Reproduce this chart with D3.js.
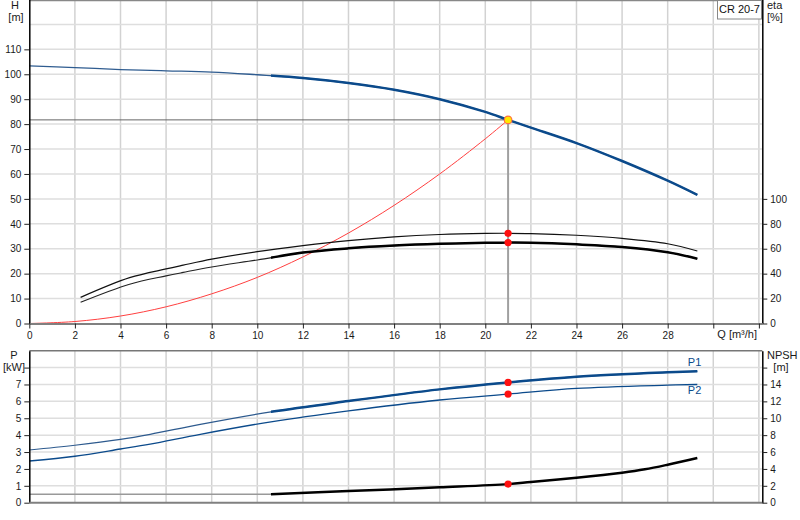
<!DOCTYPE html>
<html>
<head>
<meta charset="utf-8">
<script src="https://cdn.jsdelivr.net/npm/d3@7"></script>
<style>
  body { margin: 0; background: #fff; }
  svg { display: block; font-family: "Liberation Sans", Arial, sans-serif; font-size: 10px; }
  .tick text { fill: #1a1a1a; font-size: 10px; }
</style>
</head>
<body>
<div id="chart"></div>
<script>
// pump curve CR 20-7
var pumpName = 'CR 20-7';

// Q/H curve
var qH = [0, 2, 4, 6, 8, 10, 12, 14, 16, 18, 20, 21, 22, 24, 26, 28, 29.3];
var hVals = [103.4, 102.7, 101.9, 101.4, 100.9, 99.8, 98.5, 96.5, 93.8, 90.0, 84.9, 81.7, 78.6, 72.4, 65.2, 57.3, 51.6];

// efficiency curves
var qEta = [2.25, 4.4, 6, 6.75, 8, 10, 12, 14, 16, 18, 20, 21, 22, 24, 26, 28, 29.3];
var etaPump = [21.0, 36.8, 43.8, 46.8, 51.6, 57.7, 62.5, 66.5, 69.5, 71.4, 72.3, 72.4, 72.2, 70.8, 68.3, 64.0, 58.2];
var etaTotal = [17.0, 31.5, 38.2, 41.0, 45.4, 51.0, 56.9, 60.3, 62.5, 63.9, 64.7, 64.9, 64.8, 63.5, 61.4, 57.2, 52.0];

// system curve
var qSys = [0, 2, 4, 6, 8, 10, 12, 14, 16, 18, 20, 21];
var hSys = [0, 0.8, 3.0, 6.7, 11.9, 18.5, 26.7, 36.3, 47.4, 60.0, 74.1, 81.7];

// power curves
var qP = [0, 2, 4, 5.3, 7.5, 10.6, 14, 18, 21, 24, 28, 29.3];
var p1Vals = [3.12, 3.40, 3.75, 4.05, 4.64, 5.38, 6.02, 6.71, 7.12, 7.46, 7.72, 7.78];
var p2Vals = [2.47, 2.75, 3.18, 3.47, 4.05, 4.79, 5.44, 6.08, 6.43, 6.77, 6.96, 7.00];

// NPSH curve
var qNpshFlat = [0, 10.6];
var npshFlat = [1.0, 1.0];
var qNpsh = [10.6, 14, 18, 21, 22, 24, 26, 27, 28, 29.3];
var npshVals = [1.0, 1.38, 1.82, 2.2, 2.45, 2.95, 3.55, 3.95, 4.5, 5.3];

// duty point
var dutyQ = 21;
var dutyH = 81.7;
var dutyEta = [72.4, 64.9];
var dutyP = [7.12, 6.43];
var dutyNpsh = 2.2;

// tick labels
var qTicks = [0, 2, 4, 6, 8, 10, 12, 14, 16, 18, 20, 22, 24, 26, 28, 30, 32];
var hTicks = [0, 10, 20, 30, 40, 50, 60, 70, 80, 90, 100, 110];
var etaTicks = [0, 20, 40, 60, 80, 100];
var pTicks = [0, 1, 2, 3, 4, 5, 6, 7, 8];
var npshTicks = [0, 2, 4, 6, 8, 10, 12, 14, 16];

var recStart = 10.6;

var blue = '#0b4a8b';
var left = 29.3, right = 762.3;

var svg = d3.select('#chart').append('svg')
    .attr('width', 800)
    .attr('height', 520);

var x = d3.scaleLinear().domain([0, 32.15]).range([left, right]);
var yH = d3.scaleLinear().domain([0, 130]).range([323.5, -0.5]);
var yEta = d3.scaleLinear().domain([0, 260]).range([323.5, -0.5]);
var yP = d3.scaleLinear().domain([0, 9]).range([502.7, 350.7]);
var yN = d3.scaleLinear().domain([0, 18]).range([502.7, 350.7]);

function zip(a, b) {
  return a.map(function (v, i) { return [v, b[i]]; });
}

function lineFor(ys) {
  return d3.line()
      .curve(d3.curveCatmullRom.alpha(0.5))
      .x(function (d) { return x(d[0]); })
      .y(function (d) { return ys(d[1]); });
}

// clip for recommended range (thick part)
var defs = svg.append('defs');
defs.append('clipPath').attr('id', 'rec')
  .append('rect')
  .attr('x', x(recStart)).attr('y', 0)
  .attr('width', right - x(recStart)).attr('height', 520);

// Grids
function grid(g, y0, y1, yScale, hVals2) {
  g.selectAll('.vg').data(d3.range(2, 33, 2)).enter()
    .append('line')
    .attr('x1', function (d) { return x(d); })
    .attr('x2', function (d) { return x(d); })
    .attr('y1', y0).attr('y2', y1)
    .attr('stroke', '#d2d2d2').attr('stroke-width', 1.5);
  g.selectAll('.hg').data(hVals2).enter()
    .append('line')
    .attr('x1', left).attr('x2', right)
    .attr('y1', function (d) { return yScale(d); })
    .attr('y2', function (d) { return yScale(d); })
    .attr('stroke', '#dedede').attr('stroke-width', 1.5);
}

var topGrid = svg.append('g');
grid(topGrid, 0, 323.5, yH, d3.range(10, 121, 10));
var botGrid = svg.append('g');
grid(botGrid, 350.7, 502.7, yP, d3.range(1, 9, 1));

// Top border lines
svg.append('line').attr('x1', left).attr('x2', right).attr('y1', 0.5).attr('y2', 0.5)
  .attr('stroke', '#888').attr('stroke-width', 1.5);
svg.append('line').attr('x1', left).attr('x2', right).attr('y1', 350.7).attr('y2', 350.7)
  .attr('stroke', '#777').attr('stroke-width', 1.5);

// Duty lines
svg.append('line')
  .attr('x1', left).attr('x2', x(dutyQ))
  .attr('y1', yH(dutyH)).attr('y2', yH(dutyH))
  .attr('stroke', '#666').attr('stroke-width', 1);
svg.append('line')
  .attr('x1', x(dutyQ)).attr('x2', x(dutyQ))
  .attr('y1', yH(dutyH)).attr('y2', yH(0))
  .attr('stroke', '#a0a0a0').attr('stroke-width', 2);

// System curve
svg.append('path')
  .attr('d', lineFor(yH)(zip(qSys, hSys)))
  .attr('fill', 'none').attr('stroke', '#ff4040').attr('stroke-width', 1);

// Q/H curve
var hLine = lineFor(yH)(zip(qH, hVals));
svg.append('path').attr('d', hLine)
  .attr('fill', 'none').attr('stroke', '#2f5c90').attr('stroke-width', 1.3);
svg.append('path').attr('d', hLine).attr('clip-path', 'url(#rec)')
  .attr('fill', 'none').attr('stroke', blue).attr('stroke-width', 2.5);

// Efficiency
svg.append('path').attr('d', lineFor(yEta)(zip(qEta, etaPump)))
  .attr('fill', 'none').attr('stroke', '#111').attr('stroke-width', 1.2);
var etaLine = lineFor(yEta)(zip(qEta, etaTotal));
svg.append('path').attr('d', etaLine)
  .attr('fill', 'none').attr('stroke', '#222').attr('stroke-width', 1.1);
svg.append('path').attr('d', etaLine).attr('clip-path', 'url(#rec)')
  .attr('fill', 'none').attr('stroke', '#000').attr('stroke-width', 2.5);

// Power
var p1Line = lineFor(yP)(zip(qP, p1Vals));
svg.append('path').attr('d', p1Line)
  .attr('fill', 'none').attr('stroke', '#2d5a8e').attr('stroke-width', 1.2);
svg.append('path').attr('d', p1Line).attr('clip-path', 'url(#rec)')
  .attr('fill', 'none').attr('stroke', blue).attr('stroke-width', 2.5);
svg.append('path').attr('d', lineFor(yP)(zip(qP, p2Vals)))
  .attr('fill', 'none').attr('stroke', blue).attr('stroke-width', 1.3);

// NPSH
svg.append('path').attr('d', lineFor(yN)(zip(qNpshFlat, npshFlat)))
  .attr('fill', 'none').attr('stroke', '#999').attr('stroke-width', 1.3);
svg.append('path').attr('d', lineFor(yN)(zip(qNpsh, npshVals)))
  .attr('fill', 'none').attr('stroke', '#000').attr('stroke-width', 2.5);

// P1/P2 labels
var qEnd = qP[qP.length - 1];
svg.append('text').attr('x', x(qEnd) + 4).attr('y', yP(p1Vals[p1Vals.length - 1]) - 5)
  .attr('text-anchor', 'end').attr('fill', blue).attr('font-size', 11).text('P1');
svg.append('text').attr('x', x(qEnd) + 4).attr('y', yP(p2Vals[p2Vals.length - 1]) + 10)
  .attr('text-anchor', 'end').attr('fill', blue).attr('font-size', 11).text('P2');

// Duty markers
function dot(cx, cy) {
  svg.append('circle').attr('cx', cx).attr('cy', cy).attr('r', 3.6)
    .attr('fill', '#ff1010');
}
dot(x(dutyQ), yEta(dutyEta[0]));
dot(x(dutyQ), yEta(dutyEta[1]));
dot(x(dutyQ), yP(dutyP[0]));
dot(x(dutyQ), yP(dutyP[1]));
dot(x(dutyQ), yN(dutyNpsh));
svg.append('circle').attr('cx', x(dutyQ)).attr('cy', yH(dutyH)).attr('r', 3.8)
  .attr('fill', '#ffe800').attr('stroke', '#ff7040').attr('stroke-width', 1.2);

// Axes
function styleAxis(g, color, width) {
  g.select('.domain').attr('stroke', color).attr('stroke-width', width);
  g.selectAll('.tick line').attr('stroke', '#222');
}

var hAxis = svg.append('g')
    .attr('transform', 'translate(' + left + ',0)')
    .call(d3.axisLeft(yH).tickValues(hTicks).tickSize(5).tickSizeOuter(0).tickPadding(3));
styleAxis(hAxis, '#000', 1.5);

var etaAxis = svg.append('g')
    .attr('transform', 'translate(' + right + ',0)')
    .call(d3.axisRight(yEta).tickValues(etaTicks).tickSize(5).tickSizeOuter(0).tickPadding(3));
styleAxis(etaAxis, '#000', 1.5);

var qAxis = svg.append('g')
    .attr('transform', 'translate(0,' + yH(0) + ')')
    .call(d3.axisBottom(x).tickValues(qTicks).tickSize(5).tickSizeOuter(0).tickPadding(3)
      .tickFormat(function (d) { return d <= 28 ? d : ''; }));
styleAxis(qAxis, '#808080', 2);

var pAxis = svg.append('g')
    .attr('transform', 'translate(' + left + ',0)')
    .call(d3.axisLeft(yP).tickValues(pTicks).tickSize(5).tickSizeOuter(0).tickPadding(3)
      .tickFormat(function (d) { return d <= 7 ? d : ''; }));
styleAxis(pAxis, '#000', 1.5);

var nAxis = svg.append('g')
    .attr('transform', 'translate(' + right + ',0)')
    .call(d3.axisRight(yN).tickValues(npshTicks).tickSize(5).tickSizeOuter(0).tickPadding(3)
      .tickFormat(function (d) { return d <= 14 ? d : ''; }));
styleAxis(nAxis, '#000', 1.5);

svg.append('line').attr('x1', left).attr('x2', right).attr('y1', 502.7).attr('y2', 502.7)
  .attr('stroke', '#808080').attr('stroke-width', 2);

svg.selectAll('.tick text').style('font-family', '"Liberation Sans", Arial, sans-serif');

// Axis titles
function label(tx, ty, t, anchor) {
  svg.append('text').attr('x', tx).attr('y', ty)
    .attr('text-anchor', anchor || 'middle').attr('fill', '#1a1a1a').attr('font-size', 11).text(t);
}
label(15, 9, 'H');
label(16, 21, '[m]');
label(767, 9, 'eta', 'start');
label(767, 21, '[%]', 'start');
label(757, 338, 'Q [m³/h]', 'end');
label(14, 359, 'P');
label(14, 371, '[kW]');
label(767, 359, 'NPSH', 'start');
label(781, 371, '[m]');

// Name box
svg.append('rect').attr('x', 717.5).attr('y', 0.5).attr('width', 44).attr('height', 18.5)
  .attr('fill', '#fff').attr('stroke', '#888');
svg.append('text').attr('x', 739.5).attr('y', 13).attr('text-anchor', 'middle')
  .attr('fill', '#111').attr('font-size', 11).text(pumpName);
</script>
</body>
</html>
